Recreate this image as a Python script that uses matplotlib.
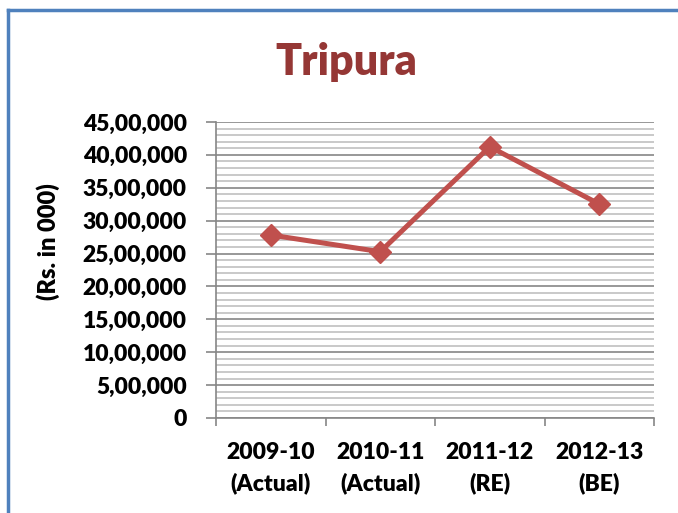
import matplotlib
matplotlib.use('Agg')
import matplotlib.pyplot as plt
from matplotlib.lines import Line2D
import numpy as np

# data (Rs. in 000)
years = ['2009-10\n(Actual)', '2010-11\n(Actual)', '2011-12\n(RE)', '2012-13\n(BE)']
values = [2782000, 2528000, 4124000, 3253000]
y_ticks = [0, 500000, 1000000, 1500000, 2000000, 2500000, 3000000, 3500000, 4000000, 4500000]
y_labels = ['0', '5,00,000', '10,00,000', '15,00,000', '20,00,000', '25,00,000',
            '30,00,000', '35,00,000', '40,00,000', '45,00,000']

plt.rcParams['font.family'] = ['Lato', 'DejaVu Sans']
plt.rcParams['font.weight'] = 'bold'

fig = plt.figure(figsize=(6.78, 5.13), dpi=100)
ax = fig.add_axes([216/678, 1-418/513, (654-216)/678, (418-122)/513])

x = np.arange(len(years))
ax.plot(x, values, color='#C0504D', lw=3.6, marker='D', ms=11, zorder=3)

ax.set_xlim(-0.5, 3.5)
ax.set_ylim(0, 4500000)

# gridlines: major every 5 lakh, minor every 1 lakh
ax.set_yticks(y_ticks)
ax.set_yticklabels(y_labels, fontsize=16.5, fontweight='heavy')
ax.set_yticks(np.arange(0, 4500001, 100000), minor=True)
ax.grid(axis='y', which='minor', color='#C0C0C0', lw=1.2)
ax.grid(axis='y', which='major', color='#868686', lw=1.2)
ax.set_axisbelow(True)

ax.set_xticks(x)
ax.set_xticklabels(years, fontsize=16.5, fontweight='heavy', linespacing=1.55)
ax.set_xticks(np.arange(-0.5, 3.6, 1), minor=True)
ax.tick_params(axis='x', which='major', length=0, pad=17)
ax.tick_params(axis='x', which='minor', length=6, color='#868686', width=1.2)
ax.tick_params(axis='y', which='major', length=7, color='#868686', width=1.2, pad=14)
ax.tick_params(axis='y', which='minor', length=0)

for s in ['top', 'right']:
    ax.spines[s].set_visible(False)
for s in ['left', 'bottom']:
    ax.spines[s].set_color('#868686')
    ax.spines[s].set_linewidth(1.2)

ax.set_ylabel('(Rs. in 000)', fontsize=17, fontweight='heavy')
ax.yaxis.set_label_coords(-0.356, 0.595)

fig.text(346/678, 1-62/513, 'Tripura', fontsize=31, fontweight='heavy',
         color='#953735', ha='center', va='center')

# blue chart border (left and top edge only visible)
fig.add_artist(Line2D([8/678, 8/678], [0, 1-10/513], color='#4F81BD', lw=2.5))
fig.add_artist(Line2D([8/678, 1], [1-10/513, 1-10/513], color='#4F81BD', lw=2.5))

fig.savefig('out.png', dpi=100)
